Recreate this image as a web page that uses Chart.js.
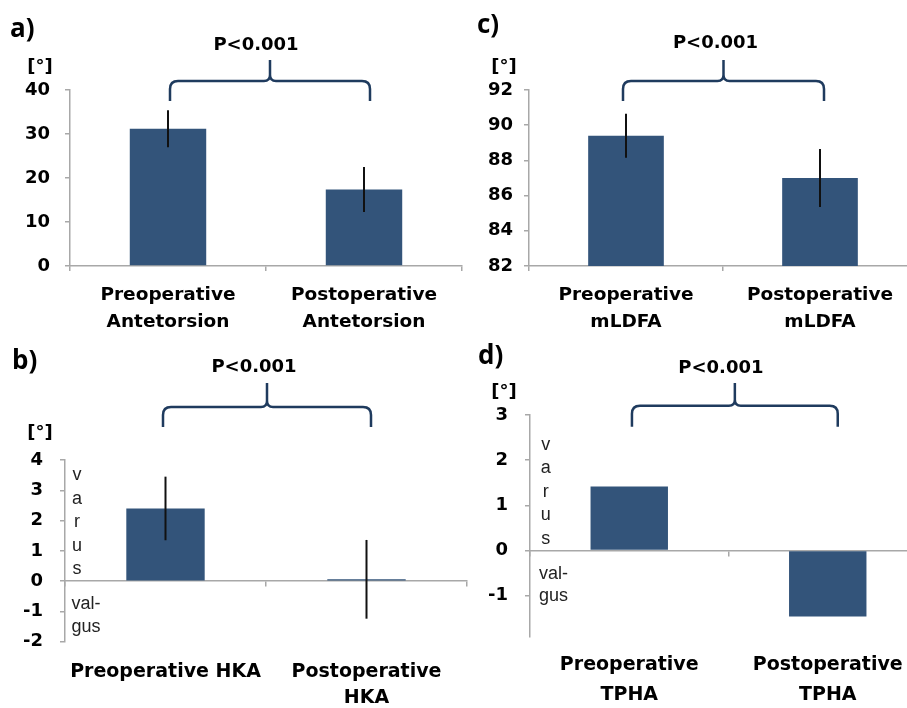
<!DOCTYPE html>
<html><head><meta charset="utf-8">
<script src="https://cdn.jsdelivr.net/npm/chart.js@4.4.0/dist/chart.umd.min.js"></script>
<style>
html,body{margin:0;padding:0;background:#fff;overflow:hidden;width:907px;height:708px;position:relative;}
canvas{position:absolute;}
</style></head><body>
<canvas id="ca" width="480" height="345" style="left:0;top:0"></canvas>
<canvas id="cc" width="480" height="345" style="left:450px;top:0"></canvas>
<canvas id="cb" width="480" height="368" style="left:0;top:340px"></canvas>
<canvas id="cd" width="480" height="368" style="left:450px;top:340px"></canvas>
<script>
// ---- data ----
const catsA = [['Preoperative','Antetorsion'], ['Postoperative','Antetorsion']];
const valsA = [31.2, 17.4];
const errA = [4.2, 5.1];
const ticksA = [0, 10, 20, 30, 40];

const catsB = ['Preoperative HKA', ['Postoperative','HKA']];
const valsB = [2.4, 0.06];
const errB = [1.05, 1.3];
const ticksB = [-2, -1, 0, 1, 2, 3, 4];

const catsC = [['Preoperative','mLDFA'], ['Postoperative','mLDFA']];
const valsC = [89.4, 87.0];
const errC = [1.25, 1.65];
const ticksC = [82, 84, 86, 88, 90, 92];

const catsD = [['Preoperative','TPHA'], ['Postoperative','TPHA']];
const valsD = [1.42, -1.46];
const ticksD = [-1, 0, 1, 2, 3];

const pText = 'P<0.001';
const varusLetters = ['v','a','r','u','s'];
const valgusLines = ['val-','gus'];

// ---- style ----
const BAR = '#33547a', AXIS = '#a8a8a8', BRACE = '#1f3b5e';
const FONT = '"DejaVu Sans", sans-serif';

const deco = {
  id: 'deco',
  afterDatasetsDraw(chart, args, o) {
    if (!o.err) return;
    const ctx = chart.ctx, y = chart.scales.y;
    const meta = chart.getDatasetMeta(0);
    const data = chart.data.datasets[0].data;
    ctx.save();
    ctx.strokeStyle = '#111'; ctx.lineWidth = 2;
    o.err.forEach((e, i) => {
      const bx = meta.data[i].x, v = data[i];
      ctx.beginPath();
      ctx.moveTo(bx, y.getPixelForValue(v + e));
      ctx.lineTo(bx, y.getPixelForValue(v - e));
      ctx.stroke();
    });
    ctx.restore();
  },
  afterDraw(chart, args, o) {
    const ctx = chart.ctx, x = chart.scales.x, y = chart.scales.y, ca = chart.chartArea;
    ctx.save();
    // panel label
    ctx.fillStyle = '#000';
    ctx.font = '700 26px "Open Sans", sans-serif';
    ctx.textAlign = 'left'; ctx.textBaseline = 'alphabetic';
    ctx.fillText(o.label.text, o.label.x, o.label.y);
    // unit
    ctx.font = 'bold 18px ' + FONT;
    ctx.textAlign = 'center'; ctx.textBaseline = 'middle';
    ctx.fillText('[°]', o.unit.x, o.unit.y);
    // brace
    const b = o.brace;
    const xl = x.getPixelForTick(0) + b.l, xr = x.getPixelForTick(1) + b.r;
    const xm = (xl + xr) / 2, yh = ca.top + b.h, ye = ca.top + b.e, ys = ca.top + b.s;
    const r = 8, rs = 6;
    ctx.strokeStyle = BRACE; ctx.lineWidth = 2.5; ctx.lineCap = 'butt';
    ctx.beginPath();
    ctx.moveTo(xl, ye);
    ctx.lineTo(xl, yh + r);
    ctx.quadraticCurveTo(xl, yh, xl + r, yh);
    ctx.lineTo(xm - rs, yh);
    ctx.quadraticCurveTo(xm, yh, xm, yh - rs);
    ctx.lineTo(xm, ys);
    ctx.moveTo(xm, yh - rs);
    ctx.quadraticCurveTo(xm, yh, xm + rs, yh);
    ctx.lineTo(xr - r, yh);
    ctx.quadraticCurveTo(xr, yh, xr, yh + r);
    ctx.lineTo(xr, ye);
    ctx.stroke();
    ctx.fillStyle = '#000';
    ctx.font = 'bold 18px ' + FONT;
    ctx.fillText(pText, xm + b.px, ca.top + b.py);
    // varus / valgus
    if (o.varus) {
      const z = y.getPixelForValue(0);
      ctx.font = '18px "Liberation Sans", Arial, sans-serif';
      ctx.fillStyle = '#222';
      ctx.textAlign = 'center';
      const n = varusLetters.length;
      varusLetters.forEach((c, i) => {
        ctx.fillText(c, ca.left + o.varus.lx, z - 12 - (n - 1 - i) * 23.5);
      });
      ctx.textAlign = 'left';
      valgusLines.forEach((t, i) => {
        ctx.fillText(t, ca.left + o.varus.vx, z + 23 + i * 22.5);
      });
    }
    ctx.restore();
  }
};

function yScale(cfg) {
  return {
    min: cfg.min, max: cfg.max,
    grid: { drawOnChartArea: false, drawTicks: true, tickLength: 5, color: AXIS, lineWidth: 1.5 },
    border: { display: true, color: AXIS, width: 1.5 },
    ticks: { font: { family: FONT, size: 18, weight: 'bold' }, color: '#000', padding: cfg.yPad },
    afterBuildTicks(s) { s.ticks = cfg.ticks.map(v => ({ value: v })); },
    afterFit(s) { s.width = cfg.yw; }
  };
}
function labelFont(cfg) {
  return { family: FONT, size: cfg.fs, weight: 'bold', lineHeight: cfg.lh / cfg.fs };
}

function makeChart(id, cfg) {
  const scales = {};
  const gridX = { display: true, offset: true, drawOnChartArea: false, drawTicks: true, tickLength: 5, color: AXIS, lineWidth: 1.5 };
  if (!cfg.zeroAxis) {
    scales.x = {
      type: 'category', offset: true, grid: gridX,
      border: { display: true, color: AXIS, width: 1.5 },
      ticks: { font: labelFont(cfg), color: '#000', padding: cfg.xPad, maxRotation: 0, minRotation: 0, autoSkip: false },
      afterFit(s) { s.height = cfg.xh; }
    };
    scales.y = yScale(cfg);
  } else {
    scales.y = yScale(cfg);
    scales.x = {
      type: 'category', offset: true, position: { y: 0 }, grid: gridX,
      border: { display: true, color: AXIS, width: 1.5 },
      ticks: { display: false },
      afterFit(s) { s.height = 0; }
    };
    scales.x2 = {
      type: 'category', offset: true, position: 'bottom',
      grid: { display: false, drawTicks: false, offset: true },
      border: { display: false },
      ticks: { font: labelFont(cfg), color: '#000', padding: cfg.xPad, maxRotation: 0, minRotation: 0, autoSkip: false },
      afterFit(s) { s.height = cfg.xh; }
    };
  }
  return new Chart(document.getElementById(id), {
    type: 'bar',
    data: {
      labels: cfg.cats,
      datasets: [{ data: cfg.vals, backgroundColor: BAR, borderWidth: 0, barPercentage: 0.39, categoryPercentage: 1, xAxisID: 'x', yAxisID: 'y' }]
    },
    options: {
      responsive: false, animation: false, devicePixelRatio: 1,
      layout: { padding: { top: cfg.top, left: 0, right: cfg.right, bottom: 0 } },
      plugins: { legend: { display: false }, tooltip: { enabled: false }, deco: cfg.deco },
      scales
    },
    plugins: [deco]
  });
}

makeChart('ca', {
  cats: catsA, vals: valsA, ticks: ticksA, min: 0, max: 40,
  top: 90, right: 18, yw: 70, xh: 79, yPad: 15, xPad: 10.5, fs: 18.5, lh: 27,
  deco: { err: errA, label: { text: 'a)', x: 10, y: 37 }, unit: { x: 40, y: 67 },
          brace: { l: 2, r: 6, h: -9, e: 11, s: -30, px: -14, py: -45 } }
});
makeChart('cc', {
  cats: catsC, vals: valsC, ticks: ticksC, min: 82, max: 92,
  top: 90, right: 13, yw: 79, xh: 79, yPad: 11, xPad: 10.5, fs: 18.5, lh: 27,
  deco: { err: errC, label: { text: 'c)', x: 27, y: 33 }, unit: { x: 54, y: 67 },
          brace: { l: -3, r: 4, h: -9, e: 11, s: -30, px: -8, py: -47 } }
});
makeChart('cb', {
  cats: catsB, vals: valsB, ticks: ticksB, min: -2, max: 4, zeroAxis: true,
  top: 120, right: 13, yw: 65, xh: 66.3, yPad: 17, xPad: 17.3, fs: 19, lh: 26,
  deco: { err: errB, label: { text: 'b)', x: 12, y: 29 }, unit: { x: 40, y: 93 },
          brace: { l: -2.5, r: 4.5, h: -53, e: -33, s: -77, px: -13, py: -93 },
          varus: { lx: 12, vx: 6.5 } }
});
makeChart('cd', {
  cats: catsD, vals: valsD, ticks: ticksD, min: -1.9, max: 3, zeroAxis: true,
  top: 75, right: 3, yw: 80, xh: 71.5, yPad: 17, xPad: 13.5, fs: 19, lh: 30,
  deco: { err: null, label: { text: 'd)', x: 28, y: 24 }, unit: { x: 54, y: 52 },
          brace: { l: 2.7, r: 10, h: -9.3, e: 11.7, s: -32, px: -14, py: -47 },
          varus: { lx: 15.7, vx: 9 } }
});
</script>
</body></html>
